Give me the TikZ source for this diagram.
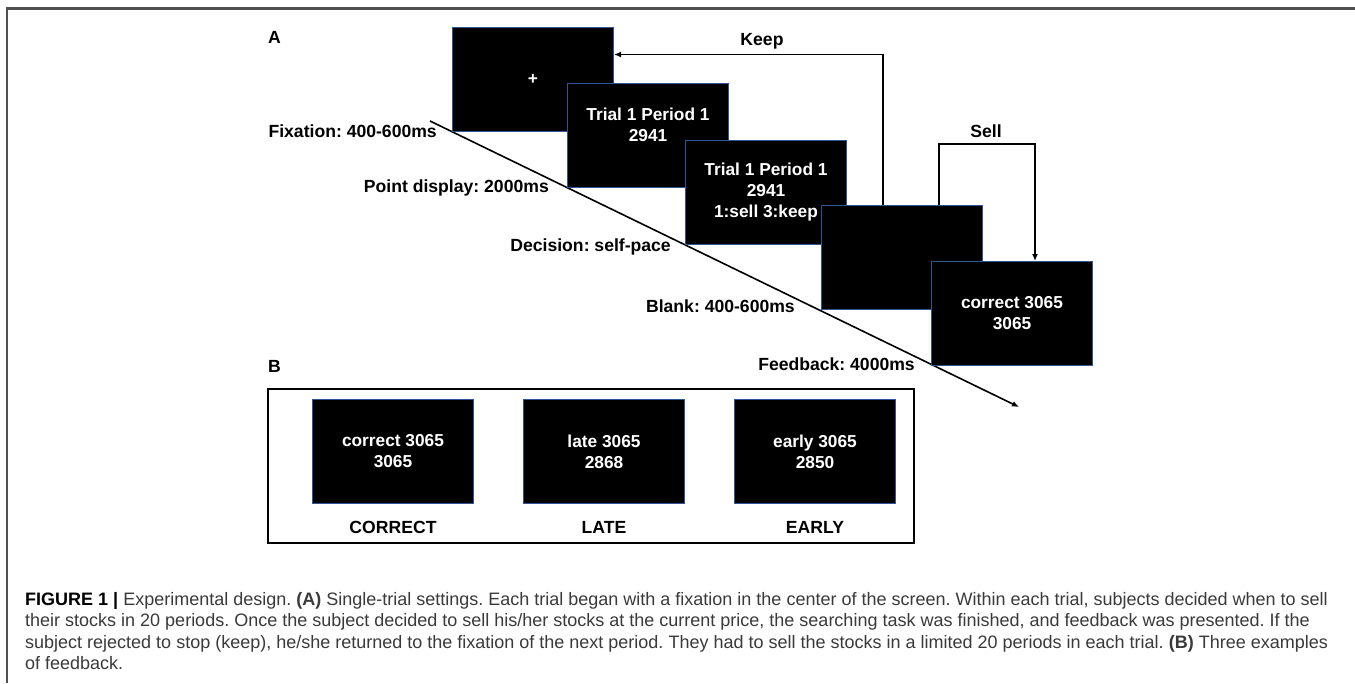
\documentclass[tikz,border=0pt]{standalone}
\usepackage{fontspec}
\setmainfont{Liberation Sans}
\usetikzlibrary{arrows.meta,calc}
\definecolor{scrblue}{HTML}{2F5597}
\definecolor{capgray}{HTML}{3A3A3A}
\definecolor{framegray}{HTML}{505050}
\frenchspacing
\begin{document}
\frenchspacing
\begin{tikzpicture}[x=1pt,y=-1pt,
  screen/.style={draw=scrblue,line width=1pt,fill=black,minimum width=161pt,minimum height=104pt,inner sep=0pt,anchor=north west},
  stxt/.style={text=white,font=\fontsize{17.3}{21}\selectfont\bfseries,align=center,inner sep=0pt},
  lbl/.style={font=\fontsize{17.6}{21}\selectfont\bfseries,inner sep=0pt},
  conn/.style={line width=1.6pt,-{Latex[length=7pt,width=6pt]}},
  captxt/.style={anchor=base west,inner sep=0pt,text=capgray,font=\fontsize{18}{21}\selectfont}]
\useasboundingbox[fill=white] (0,0) rectangle (1355,683);
% outer frame
\draw[framegray,line width=2.2pt] (7,683) -- (7,8.5) -- (1355,8.5);
% timeline
\coordinate (tl0) at (430,121);
\coordinate (tl1) at (1019,407);
\draw[conn] (tl0) -- (tl1);
% panel A screens
\node[screen] (s1) at (452,27) {};
\node[screen] (s2) at (567,83) {};
\node[screen] (s3) at (685,140) {};
\node[screen] (s4) at (821,205) {};
\node[screen] (s5) at (931,261) {};
\node[stxt] (t1) at (s1.center) {+};
\node[stxt] (t2) at ([yshift=11pt]s2.center) {Trial 1 Period 1\\2941};
\node[stxt] (t3) at (s3.center) {Trial 1 Period 1\\2941\\1:sell 3:keep};
\node[stxt] (t5) at (s5.center) {correct 3065\\3065};
% stage labels
\node[lbl,anchor=base east] (l1) at (437,137) {Fixation: 400-600ms};
\node[lbl,anchor=base east] (l2) at (549,192) {Point display: 2000ms};
\node[lbl,anchor=base east] (l3) at (671,251) {Decision: self-pace};
\node[lbl,anchor=base east] (l4) at (795,312) {Blank: 400-600ms};
\node[lbl,anchor=base east] (l5) at (915,370) {Feedback: 4000ms};
\node[lbl,anchor=base west] (pa) at (268,43) {A};
\node[lbl,anchor=base west] (pb) at (268,372) {B};
% keep / sell connectors
\draw[conn] ([xshift=62pt]s4.north west) |- ([yshift=25pt]s1.east);
\node[lbl,anchor=base] (keep) at (762,45) {Keep};
\coordinate (sellup) at (0,144);
\draw[conn] ([xshift=118pt]s4.north west) -- ([xshift=118pt]s4.north west |- sellup) -- ([xshift=104pt]s5.north west |- sellup) -- ([xshift=104pt]s5.north west);
\node[lbl,anchor=base] (sell) at (986,137) {Sell};
% panel B
\node[draw,line width=1.5pt,minimum width=646pt,minimum height=154pt,inner sep=0pt,anchor=north west] (boxB) at (267,388) {};
\node[screen] (b1) at (312,399) {};
\node[screen] (b2) at (523,399) {};
\node[screen] (b3) at (734,399) {};
\node[stxt] (bt1) at (b1.center) {correct 3065\\3065};
\node[stxt] (bt2) at (b2.center) {late 3065\\2868};
\node[stxt] (bt3) at (b3.center) {early 3065\\2850};
\node[lbl,anchor=base] (bl1) at (b1.center |- 0,533) {CORRECT};
\node[lbl,anchor=base] (bl2) at (b2.center |- 0,533) {LATE};
\node[lbl,anchor=base] (bl3) at (b3.center |- 0,533) {EARLY};
% caption
\node[captxt] (c1) at (25,605) {\textbf{\color{black}FIGURE 1 |} Experimental design. \textbf{(A)} Single-trial settings. Each trial began with a fixation in the center of the screen. Within each trial, subjects decided when to sell};
\node[captxt] (c2) at (25,626.5) {their stocks in 20 periods. Once the subject decided to sell his/her stocks at the current price, the searching task was finished, and feedback was presented. If the};
\node[captxt] (c3) at (25,648) {subject rejected to stop (keep), he/she returned to the fixation of the next period. They had to sell the stocks in a limited 20 periods in each trial. \textbf{(B)} Three examples};
\node[captxt] (c4) at (25,669.5) {of feedback.};
\end{tikzpicture}
\end{document}
